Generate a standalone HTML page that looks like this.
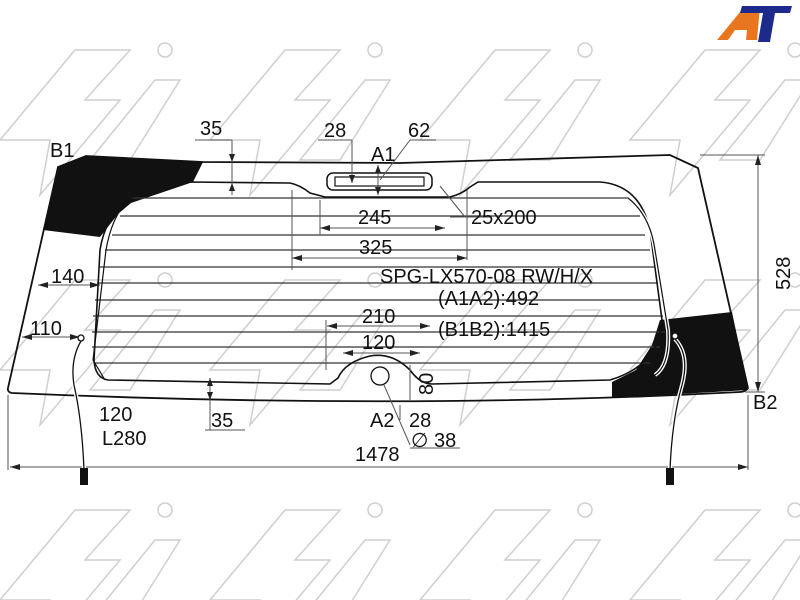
<!DOCTYPE html>
<html><head><style>
html,body{margin:0;padding:0;background:#fff;}
svg{display:block;}
text{font-family:"Liberation Sans",sans-serif;font-size:20px;fill:#111;}
</style></head><body>
<svg width="800" height="600" viewBox="0 0 800 600">
<defs>
<pattern id="wm" width="210" height="230" patternUnits="userSpaceOnUse" x="-20" y="-10">
<g fill="none" stroke="#cfcfcf" stroke-width="1.5">
<path d="M20 150 L95 60 L150 60 L105 110 L140 110 L60 205 L70 150 Z"/>
<path d="M110 170 L175 90 L200 90 L150 170 Z"/>
<circle cx="185" cy="60" r="7"/>
</g>
</pattern>
</defs>
<rect width="800" height="600" fill="#fff"/>
<rect width="800" height="600" fill="url(#wm)"/>

<!-- black areas -->
<path d="M86,156 L58,167 L43,230 L100,237 L118,214 L131,203 L193,182 L203,162 Z" fill="#111"/>
<path d="M612,398 L612,382 L636,370 L652,345 L660,320 L732,312 L748,390 Z" fill="#111"/>

<!-- outer glass -->
<path d="M86,156 L203,162 L400,163 L670,155 L698,168 L748,388 Q745,392 740,392 Q400,410 12,393 Q7,392 8,388 L58,167 Z" fill="none" stroke="#111" stroke-width="1.8"/>

<!-- heating lines -->
<g stroke="#333" stroke-width="1.2">
<line x1="130" y1="198" x2="630" y2="198"/>
<line x1="120" y1="216" x2="640" y2="216"/>
<line x1="112" y1="235" x2="645" y2="235"/>
<line x1="105" y1="250" x2="650" y2="250"/>
<line x1="100" y1="267" x2="655" y2="267"/>
<line x1="97" y1="283" x2="658" y2="283"/>
<line x1="95" y1="300" x2="660" y2="300"/>
<line x1="93" y1="316" x2="663" y2="316"/>
<line x1="92" y1="332" x2="665" y2="332"/>
<line x1="92" y1="347" x2="660" y2="347"/>
<line x1="95" y1="363" x2="650" y2="363"/>
</g>

<!-- inner area -->
<path d="M190,182 L290,183 Q300,185 310,193 L325,197 L450,197 Q462,194 470,187 L478,182 L600,182 Q640,185 650,230 L662,320 Q660,365 610,380 L432,384 Q420,384 410,370 Q392,352 370,356 Q345,362 338,378 L330,384 L108,380 Q95,378 94,360 L100,250 Q110,185 190,182 Z" fill="none" stroke="#111" stroke-width="1.6"/>
<path d="M130,198 Q112,215 106,250 L93,360 L105,380" fill="none" stroke="#111" stroke-width="1.2"/>
<path d="M628,198 Q650,215 655,250 L668,330 Q670,365 655,375" fill="none" stroke="#fff" stroke-width="4"/>
<path d="M628,198 Q650,215 655,250 L668,330 Q670,365 655,375" fill="none" stroke="#111" stroke-width="1.2"/>
<!-- brake light -->
<rect x="327" y="173" width="105" height="17" rx="6" fill="#fff" stroke="#111" stroke-width="1.5"/>
<rect x="335" y="177" width="89" height="9" fill="none" stroke="#111" stroke-width="1.2"/>
<circle cx="380" cy="376" r="9" fill="#fff" stroke="#111" stroke-width="1.3"/>

<!-- dimension lines -->
<g stroke="#555" stroke-width="1" fill="none">
<line x1="10" y1="467" x2="748" y2="467"/>
<line x1="748" y1="395" x2="748" y2="470"/>
<line x1="8" y1="395" x2="8" y2="470"/>
<line x1="758" y1="155" x2="758" y2="392"/>
<line x1="700" y1="155" x2="765" y2="155"/>
<line x1="745" y1="392" x2="765" y2="392"/>
<line x1="292" y1="190" x2="292" y2="270"/>
<line x1="467" y1="190" x2="467" y2="260"/>
<line x1="320" y1="200" x2="320" y2="235"/>
<line x1="292" y1="258" x2="467" y2="258"/>
<line x1="320" y1="228" x2="445" y2="228"/>
<line x1="38" y1="285" x2="100" y2="285"/>
<line x1="22" y1="337" x2="80" y2="337"/>
<line x1="327" y1="326" x2="430" y2="326"/>
<line x1="326" y1="320" x2="326" y2="370"/>
<line x1="343" y1="353" x2="420" y2="353"/>
<line x1="232" y1="140" x2="232" y2="195"/>
<line x1="195" y1="140" x2="232" y2="140"/>
<line x1="210" y1="378" x2="210" y2="430"/>
<line x1="205" y1="430" x2="245" y2="430"/>
<line x1="318" y1="140" x2="352" y2="140"/>
<line x1="352" y1="140" x2="352" y2="183"/>
<line x1="378" y1="165" x2="378" y2="195"/>
<line x1="410" y1="140" x2="436" y2="140"/>
<line x1="380" y1="180" x2="410" y2="140"/>
<line x1="410" y1="365" x2="410" y2="400"/>
<line x1="400" y1="405" x2="400" y2="420"/>
<line x1="450" y1="217" x2="490" y2="217"/>
<line x1="440" y1="186" x2="465" y2="217"/>
<line x1="384" y1="385" x2="410" y2="445"/>
<line x1="410" y1="448" x2="460" y2="448"/>
</g>
<g fill="#222">
<polygon points="10,467 20,464 20,470"/>
<polygon points="748,467 738,464 738,470"/>
<polygon points="758,155 755,165 761,165"/>
<polygon points="758,392 755,382 761,382"/>
<polygon points="292,258 302,255 302,261"/>
<polygon points="467,258 457,255 457,261"/>
<polygon points="320,228 330,225 330,231"/>
<polygon points="445,228 435,225 435,231"/>
<polygon points="38,285 48,282 48,288"/>
<polygon points="100,285 90,282 90,288"/>
<polygon points="22,337 32,334 32,340"/>
<polygon points="80,337 70,334 70,340"/>
<polygon points="327,326 337,323 337,329"/>
<polygon points="430,326 420,323 420,329"/>
<polygon points="343,353 353,350 353,356"/>
<polygon points="420,353 410,350 410,356"/>
<polygon points="232,162 229,154 235,154"/>
<polygon points="232,183 229,191 235,191"/>
<polygon points="210,378 207,386 213,386"/>
<polygon points="210,400 207,392 213,392"/>
<polygon points="352,183 349,175 355,175"/>
<polygon points="378,165 375,173 381,173"/>
<polygon points="378,195 375,187 381,187"/>
</g>

<!-- cables -->
<g fill="none">
<path d="M81,341 Q70,360 74,385 Q82,420 84,470" stroke="#fff" stroke-width="4"/>
<path d="M81,341 Q70,360 74,385 Q82,420 84,470" stroke="#111" stroke-width="1.3"/>
<circle cx="81" cy="338" r="3" fill="#fff" stroke="#111" stroke-width="1.3"/>
<path d="M675,339 Q690,355 682,385 Q672,420 670,470" stroke="#fff" stroke-width="4"/>
<path d="M675,339 Q690,355 682,385 Q672,420 670,470" stroke="#111" stroke-width="1.3"/>
<circle cx="675" cy="336" r="3" fill="#fff" stroke="#111" stroke-width="1.3"/>
</g>
<rect x="80" y="468" width="8" height="17" fill="#111"/>
<rect x="666" y="468" width="8" height="17" fill="#111"/>

<!-- labels -->
<text x="200" y="135">35</text>
<text x="324" y="137">28</text>
<text x="408" y="137">62</text>
<text x="371" y="161">A1</text>
<text x="50" y="157">B1</text>
<text x="358" y="224">245</text>
<text x="471" y="224">25x200</text>
<text x="359" y="254">325</text>
<text x="380" y="283">SPG-LX570-08 RW/H/X</text>
<text x="51" y="283">140</text>
<text x="438" y="305">(A1A2):492</text>
<text x="362" y="323">210</text>
<text x="438" y="336">(B1B2):1415</text>
<text x="30" y="335">110</text>
<text x="362" y="349">120</text>
<text transform="translate(433,395) rotate(-90)">80</text>
<text transform="translate(790,290) rotate(-90)">528</text>
<text x="753" y="409">B2</text>
<text x="99" y="421">120</text>
<text x="211" y="427">35</text>
<text x="370" y="427">A2</text>
<text x="409" y="427">28</text>
<text x="102" y="445">L280</text>
<text x="411" y="447">∅ 38</text>
<text x="355" y="461">1478</text>

<polygon points="717,40 745,6 760,6 757,40 746,40 747,30 735,30 728,40" fill="#e8761f"/>
<polygon points="742,6 792,6 790,13 775,13 770,42 758,42 763,13 740,13" fill="#1c2a8c"/>
</svg>
</body></html>
